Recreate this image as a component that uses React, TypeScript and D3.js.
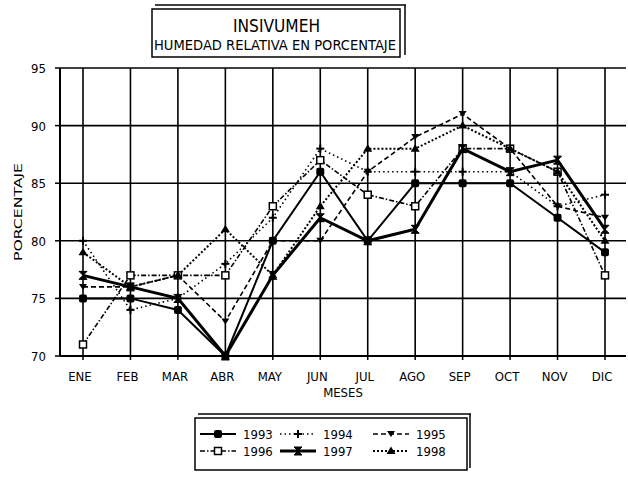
import React from "react";
import * as d3 from "d3";

const months = ["ENE","FEB","MAR","ABR","MAY","JUN","JUL","AGO","SEP","OCT","NOV","DIC"];
const yTicks = [70, 75, 80, 85, 90, 95];
const years = ["1993","1994","1995","1996","1997","1998"];
const v1993 = [75,75,74,70,80,86,80,85,85,85,82,79];
const v1994 = [80,74,75,78,82,88,86,86,86,86,83,84];
const v1995 = [76,76,77,73,80,80,86,89,91,88,83,82];
const v1996 = [71,77,77,77,83,87,84,83,88,88,86,77];
const v1997 = [77,76,75,70,77,82,80,81,88,86,87,81];
const v1998 = [79,76,77,81,77,83,88,88,90,88,86,80];
const seriesValues = [v1993, v1994, v1995, v1996, v1997, v1998];

type Style = { width: number; dash: string; marker: string };
const styles: Style[] = [
  { width: 2, dash: "", marker: "fsquare" },
  { width: 1.6, dash: "1.5,3", marker: "plus" },
  { width: 1.6, dash: "5,3", marker: "arrow" },
  { width: 1.6, dash: "5,2,1.5,2", marker: "osquare" },
  { width: 3, dash: "", marker: "bowtie" },
  { width: 2, dash: "2,2", marker: "ftri" },
];

const FONT = "'DejaVu Sans', sans-serif";

function Marker({ type, x, y }: { type: string; x: number; y: number }) {
  const t = `translate(${x},${y})`;
  switch (type) {
    case "fsquare":
      return <rect transform={t} x={-4} y={-4} width={8} height={8} rx={2} fill="#000" />;
    case "plus":
      return (
        <g transform={t} stroke="#000" strokeWidth={2}>
          <line x1={-4} y1={0} x2={4} y2={0} />
          <line x1={0} y1={-4} x2={0} y2={4} />
        </g>
      );
    case "arrow":
      return <path transform={t} d="M-4,-3 L4,-3 L0,3 Z" fill="#000" />;
    case "osquare":
      return <rect transform={t} x={-3.5} y={-3.5} width={7} height={7} fill="#fff" stroke="#000" strokeWidth={1.5} />;
    case "bowtie":
      return <path transform={t} d="M-4,-4 L4,-4 L-4,4 L4,4 Z" fill="#000" stroke="#000" strokeWidth={1} />;
    case "ftri":
      return <path transform={t} d="M0,-4.5 L4.5,3 L-4.5,3 Z" fill="#000" />;
    default:
      return null;
  }
}

export default function App() {
  const W = 628, H = 477;
  const left = 60, right = 626, top = 68, bottom = 356;
  const x = d3.scalePoint<string>().domain(months).range([83, 605]);
  const y = d3.scaleLinear().domain([70, 95]).range([bottom, top]);
  const line = d3.line<number>().x((_, i) => x(months[i]) as number).y((d) => y(d));

  const legendCols = [200, 280, 373];
  const legendRows = [434, 451];
  const tf = { fontFamily: FONT, fontStretch: "condensed" as const };

  return (
    <svg width={W} height={H} style={{ position: "absolute", left: 0, top: 0, background: "#fff" }}>
      <rect x={0} y={0} width={W} height={H} fill="#fff" />
      {/* title box */}
      <rect x={152} y={9} width={248} height={48} fill="none" stroke="#000" strokeWidth={1.5} />
      <line x1={155} y1={5} x2={406} y2={5} stroke="#000" strokeWidth={1.5} />
      <line x1={405} y1={5} x2={405} y2={55} stroke="#000" strokeWidth={1.5} />
      <text x={233} y={32} {...tf} fontSize={17} textLength={87} lengthAdjust="spacingAndGlyphs">INSIVUMEH</text>
      <text x={154} y={50} {...tf} fontSize={14} textLength={242} lengthAdjust="spacingAndGlyphs">HUMEDAD RELATIVA EN PORCENTAJE</text>

      {/* grid */}
      {yTicks.map((t) => (
        <line key={"h" + t} x1={left} x2={right} y1={y(t)} y2={y(t)} stroke="#000" strokeWidth={1.6} />
      ))}
      {months.map((m) => (
        <line key={"v" + m} x1={x(m)} x2={x(m)} y1={top} y2={bottom} stroke="#000" strokeWidth={1.6} />
      ))}
      <line x1={left} x2={left} y1={top} y2={bottom} stroke="#000" strokeWidth={2} />
      <line x1={left} x2={right} y1={bottom} y2={bottom} stroke="#000" strokeWidth={2} />
      {yTicks.map((t) => (
        <g key={"yt" + t}>
          <line x1={left - 5} x2={left} y1={y(t)} y2={y(t)} stroke="#000" strokeWidth={1.5} />
          <text x={46} y={y(t) + 5} textAnchor="end" {...tf} fontSize={13}>{t}</text>
        </g>
      ))}
      {months.map((m) => (
        <g key={"xt" + m}>
          <line x1={x(m)} x2={x(m)} y1={bottom} y2={bottom + 4} stroke="#000" strokeWidth={1.5} />
          <text x={(x(m) as number) - 3} y={381} textAnchor="middle" {...tf} fontSize={13}>{m}</text>
        </g>
      ))}
      <text x={343} y={397} textAnchor="middle" {...tf} fontSize={13}>MESES</text>
      <text transform={`translate(22,212) rotate(-90)`} textAnchor="middle" {...tf} fontSize={10.5} textLength={98} lengthAdjust="spacingAndGlyphs">PORCENTAJE</text>

      {/* series */}
      {seriesValues.map((vals, si) => (
        <g key={"s" + si}>
          <path d={line(vals) as string} fill="none" stroke="#000" strokeWidth={styles[si].width} strokeDasharray={styles[si].dash} />
          {vals.map((v, i) => (
            <Marker key={i} type={styles[si].marker} x={x(months[i]) as number} y={y(v)} />
          ))}
        </g>
      ))}

      {/* legend */}
      <rect x={195} y={418} width={272} height={52} fill="#fff" stroke="#000" strokeWidth={1.5} />
      <line x1={198} y1={414} x2={471} y2={414} stroke="#000" strokeWidth={1.5} />
      <line x1={470} y1={414} x2={470} y2={468} stroke="#000" strokeWidth={1.5} />
      {years.map((yr, i) => {
        const cx = legendCols[i % 3];
        const cy = legendRows[Math.floor(i / 3)];
        return (
          <g key={"l" + yr}>
            <line x1={cx} x2={cx + 36} y1={cy} y2={cy} stroke="#000" strokeWidth={styles[i].width} strokeDasharray={styles[i].dash} />
            <Marker type={styles[i].marker} x={cx + 18} y={cy} />
            <text x={cx + 43} y={cy + 5} {...tf} fontSize={13}>{yr}</text>
          </g>
        );
      })}
    </svg>
  );
}
